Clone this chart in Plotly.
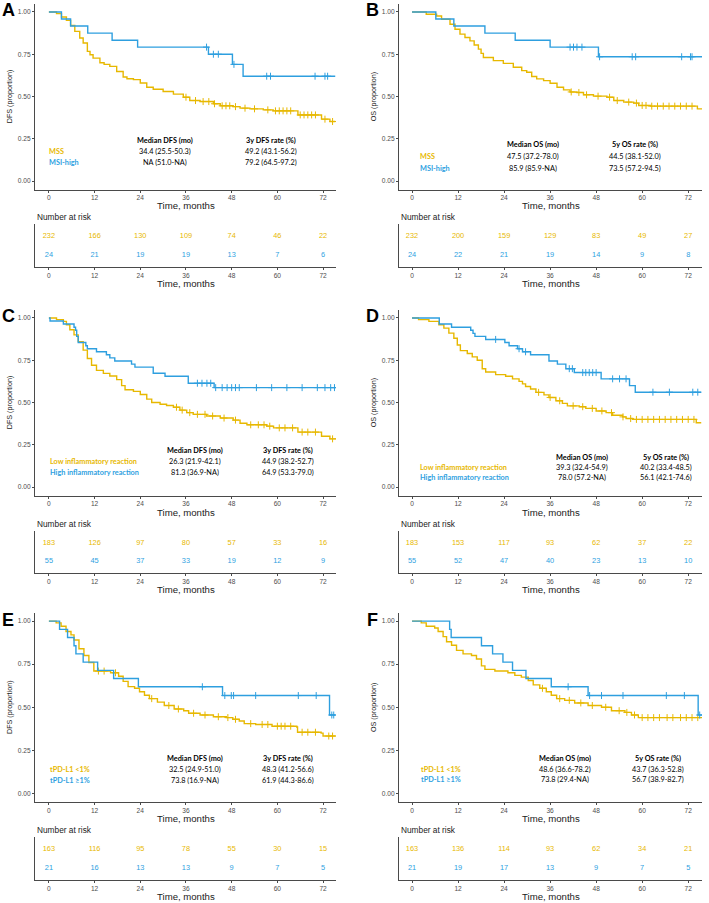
import plotly.graph_objects as go

W, H = 709, 903
YEL = "#E7B800"
BLU = "#2E9FDF"
TICKS = [0, 12, 24, 36, 48, 60, 72]

# ---- A: DFS by MSI status ----
A_yel_t = [0, 2.0, 3.3, 4.6, 5.7, 6.8, 8.1, 9.0, 10.1, 10.8, 11.6, 13.4, 14.5, 16.0, 17.8, 19.5, 20.5, 22.2, 24.0, 25.7,
           27.4, 30.0, 32.7, 35.3, 37.0, 39.7, 43.2, 45.0, 48.4, 50.2, 52.8, 56.3, 58.9, 65.4, 71.6, 73.8, 75.2]
A_yel_s = [1.0, 0.99, 0.97, 0.95, 0.92, 0.885, 0.846, 0.816, 0.767, 0.747, 0.727, 0.70, 0.69, 0.678, 0.648, 0.615, 0.605, 0.6, 0.58, 0.555,
           0.543, 0.53, 0.514, 0.496, 0.476, 0.47, 0.457, 0.445, 0.44, 0.431, 0.427, 0.421, 0.415, 0.391, 0.366, 0.352, 0.352]
A_yel_c = [36.0, 38.5, 40.5, 42.0, 43.5, 45.5, 46.5, 47.5, 49.0, 51.5, 54.0, 57.5, 59.5, 60.5, 61.5, 62.5, 63.5,
           66.0, 67.0, 68.0, 69.0, 70.0, 72.5, 74.5]
A_blu_t = [0, 3.3, 5.7, 10.2, 16.6, 23.3, 41.9, 48.2, 51.0, 75.2]
A_blu_s = [1.0, 0.958, 0.917, 0.875, 0.833, 0.792, 0.75, 0.69, 0.62, 0.62]
A_blu_c = [41.4, 43.2, 44.5, 48.6, 57.2, 58.2, 69.9, 72.5, 73.2]
A_risk_yel = [232, 166, 130, 109, 74, 46, 22]
A_risk_blu = [24, 21, 19, 19, 13, 7, 6]
A_groups = ["MSS", "MSI-high"]
A_heads = ["Median DFS (mo)", "3y DFS rate (%)"]
A_median = ["34.4 (25.5-50.3)", "NA (51.0-NA)"]
A_rate = ["49.2 (43.1-56.2)", "79.2 (64.5-97.2)"]

# ---- B: OS by MSI status ----
B_yel_t = [0, 3.7, 6.4, 7.7, 9.9, 11.2, 12.5, 13.8, 15.1, 16.2, 17.3, 18.0, 18.6, 21.2, 23.8, 26.4, 28.6, 29.9, 31.2, 32.5,
           34.3, 36.0, 37.8, 39.5, 41.2, 43.0, 44.7, 47.3, 50.8, 52.6, 55.2, 57.8, 59.1, 62.2, 73.9, 74.4, 75.6]
B_yel_s = [1.0, 0.986, 0.976, 0.957, 0.927, 0.898, 0.869, 0.849, 0.829, 0.805, 0.78, 0.755, 0.731, 0.712, 0.696, 0.673, 0.653, 0.643, 0.618, 0.604,
           0.594, 0.578, 0.555, 0.539, 0.527, 0.524, 0.51, 0.502, 0.496, 0.476, 0.467, 0.461, 0.447, 0.443, 0.443, 0.427, 0.427]
B_yel_c = [41.5, 43.5, 45.5, 48.5, 51.5, 53.5, 56.5, 58.5, 60.0, 61.0, 62.5, 64.0, 65.5, 67.0, 68.5, 70.0, 71.5, 73.0]
B_blu_t = [0, 6.2, 10.9, 19.0, 26.9, 36.0, 48.6, 75.6]
B_blu_s = [1.0, 0.958, 0.917, 0.875, 0.833, 0.792, 0.735, 0.735]
B_blu_c = [41.2, 42.1, 43.0, 44.3, 48.9, 57.4, 58.3, 70.3, 72.6, 73.0]
B_risk_yel = [232, 200, 159, 129, 83, 49, 27]
B_risk_blu = [24, 22, 21, 19, 14, 9, 8]
B_groups = ["MSS", "MSI-high"]
B_heads = ["Median OS (mo)", "5y OS rate (%)"]
B_median = ["47.5 (37.2-78.0)", "85.9 (85.9-NA)"]
B_rate = ["44.5 (38.1-52.0)", "73.5 (57.2-94.5)"]

# ---- C: DFS by inflammatory reaction ----
C_yel_t = [0, 2.0, 3.8, 4.6, 5.5, 6.6, 7.7, 9.0, 10.1, 11.2, 12.5, 14.3, 16.0, 17.8, 19.1, 20.0, 22.2, 24.0, 25.7, 27.0,
           29.2, 30.9, 32.7, 34.4, 36.2, 37.9, 41.4, 45.0, 48.4, 50.2, 52.0, 57.2, 59.0, 65.4, 71.6, 73.8, 75.4]
C_yel_s = [1.0, 0.99, 0.98, 0.96, 0.93, 0.90, 0.86, 0.81, 0.76, 0.72, 0.69, 0.672, 0.657, 0.635, 0.60, 0.575, 0.566, 0.547, 0.52, 0.50,
           0.49, 0.482, 0.472, 0.455, 0.44, 0.43, 0.42, 0.408, 0.396, 0.377, 0.368, 0.36, 0.35, 0.325, 0.30, 0.285, 0.285]
C_yel_c = [33.5, 35.0, 37.0, 39.0, 41.0, 43.0, 46.0, 49.0, 53.0, 55.0, 56.5, 58.0, 60.5, 62.0, 64.0, 66.5, 68.0, 70.0, 74.5]
C_blu_t = [0, 0.3, 3.8, 6.6, 7.0, 7.3, 7.7, 9.7, 10.1, 12.5, 15.1, 16.0, 17.3, 21.7, 22.6, 27.4, 30.5, 36.6, 43.4, 75.4]
C_blu_s = [1.0, 0.982, 0.964, 0.945, 0.927, 0.891, 0.855, 0.836, 0.818, 0.80, 0.782, 0.764, 0.745, 0.727, 0.709, 0.673, 0.655, 0.614, 0.588, 0.588]
C_blu_c = [39.0, 40.2, 41.5, 42.5, 43.8, 45.5, 46.8, 48.0, 49.0, 50.0, 54.5, 58.5, 62.5, 66.5, 70.5, 72.5, 74.0, 75.0]
C_risk_yel = [183, 126, 97, 80, 57, 33, 16]
C_risk_blu = [55, 45, 37, 33, 19, 12, 9]
C_groups = ["Low inflammatory reaction", "High inflammatory reaction"]
C_heads = ["Median DFS (mo)", "3y DFS rate (%)"]
C_median = ["26.3 (21.9-42.1)", "81.3 (36.9-NA)"]
C_rate = ["44.9 (38.2-52.7)", "64.9 (53.3-79.0)"]

# ---- D: OS by inflammatory reaction ----
D_yel_t = [0, 1.7, 4.4, 7.0, 8.3, 9.6, 10.9, 11.8, 12.6, 14.4, 15.7, 17.0, 18.3, 19.2, 21.8, 24.4, 26.2, 27.9, 28.8, 29.6,
           30.9, 32.3, 34.4, 35.7, 37.5, 39.2, 40.5, 43.6, 45.3, 48.0, 50.6, 52.3, 54.9, 55.8, 57.5, 74.1, 75.4]
D_yel_s = [1.0, 0.99, 0.98, 0.96, 0.94, 0.91, 0.88, 0.84, 0.807, 0.79, 0.77, 0.75, 0.70, 0.68, 0.665, 0.655, 0.64, 0.625, 0.61, 0.595,
           0.58, 0.56, 0.545, 0.53, 0.51, 0.495, 0.48, 0.475, 0.465, 0.45, 0.44, 0.425, 0.415, 0.405, 0.40, 0.38, 0.38]
D_yel_c = [33.0, 36.0, 38.5, 42.0, 44.5, 47.0, 49.5, 52.0, 55.0, 57.0, 58.5, 60.0, 61.5, 63.0, 64.5, 66.0, 67.5, 69.0,
           70.5, 72.0, 73.5]
D_blu_t = [0, 7.1, 10.3, 15.3, 15.9, 16.4, 19.2, 24.2, 25.3, 27.5, 28.8, 30.9, 35.7, 37.9, 40.1, 42.3, 49.3, 56.7, 58.2, 75.4]
D_blu_s = [1.0, 0.964, 0.945, 0.927, 0.909, 0.891, 0.873, 0.855, 0.836, 0.818, 0.80, 0.782, 0.745, 0.727, 0.70, 0.677, 0.64, 0.60, 0.561, 0.561]
D_blu_c = [21.8, 27.9, 29.6, 41.0, 41.8, 44.5, 45.3, 46.2, 47.1, 48.0, 52.3, 54.1, 55.8, 62.8, 67.1, 73.2, 74.5]
D_risk_yel = [183, 153, 117, 93, 62, 37, 22]
D_risk_blu = [55, 52, 47, 40, 23, 13, 10]
D_groups = ["Low inflammatory reaction", "High inflammatory reaction"]
D_heads = ["Median OS (mo)", "5y OS rate (%)"]
D_median = ["39.3 (32.4-54.9)", "78.0 (57.2-NA)"]
D_rate = ["40.2 (33.4-48.5)", "56.1 (42.1-74.6)"]

# ---- E: DFS by tumour PD-L1 ----
E_yel_t = [0, 1.9, 3.2, 4.5, 5.8, 6.6, 7.9, 9.2, 10.5, 11.8, 16.2, 18.3, 19.5, 20.8, 22.5, 23.8, 25.1, 26.4, 28.5, 30.3,
           32.9, 35.4, 36.7, 39.7, 43.2, 46.6, 48.3, 50.0, 51.3, 54.3, 58.6, 65.1, 65.3, 71.5, 72.0, 75.3]
E_yel_s = [1.0, 0.99, 0.97, 0.94, 0.92, 0.89, 0.84, 0.80, 0.76, 0.71, 0.70, 0.68, 0.65, 0.62, 0.61, 0.59, 0.57, 0.55, 0.53, 0.51,
           0.49, 0.48, 0.465, 0.455, 0.445, 0.44, 0.43, 0.42, 0.405, 0.40, 0.39, 0.385, 0.355, 0.35, 0.333, 0.333]
E_yel_c = [13.0, 14.5, 17.5, 27.0, 31.5, 34.0, 38.0, 41.0, 44.5, 47.0, 49.0, 53.0, 56.0, 57.5, 60.0, 61.0, 62.0, 63.5,
           66.5, 68.0, 70.0, 73.5, 74.5]
E_blu_t = [0, 2.8, 4.9, 6.6, 7.1, 9.0, 12.8, 17.0, 23.5, 45.6, 73.7, 75.3]
E_blu_s = [1.0, 0.952, 0.905, 0.857, 0.81, 0.762, 0.714, 0.667, 0.619, 0.568, 0.455, 0.455]
E_blu_c = [40.3, 46.2, 47.9, 48.5, 54.3, 65.5, 70.2, 74.3, 74.8]
E_risk_yel = [163, 116, 95, 78, 55, 30, 15]
E_risk_blu = [21, 16, 13, 13, 9, 7, 5]
E_groups = ["tPD-L1 <1%", "tPD-L1 \u22651%"]
E_heads = ["Median DFS (mo)", "3y DFS rate (%)"]
E_median = ["32.5 (24.9-51.0)", "73.8 (16.9-NA)"]
E_rate = ["48.3 (41.2-56.6)", "61.9 (44.3-86.6)"]

# ---- F: OS by tumour PD-L1 ----
F_yel_t = [0, 2.4, 3.7, 5.9, 6.8, 8.1, 9.0, 10.3, 11.6, 13.3, 15.5, 16.8, 18.1, 19.0, 21.6, 25.0, 26.8, 28.5, 30.3, 31.6,
           33.3, 35.0, 36.3, 37.7, 39.8, 42.4, 45.9, 49.4, 52.0, 55.5, 57.2, 59.0, 75.6]
F_yel_s = [1.0, 0.99, 0.97, 0.96, 0.94, 0.91, 0.88, 0.86, 0.83, 0.81, 0.80, 0.78, 0.74, 0.72, 0.71, 0.70, 0.685, 0.675, 0.655, 0.63,
           0.61, 0.59, 0.57, 0.55, 0.54, 0.525, 0.51, 0.50, 0.48, 0.47, 0.455, 0.44, 0.44]
F_yel_c = [34.0, 38.5, 41.0, 44.0, 47.0, 50.5, 54.0, 56.0, 58.0, 60.0, 61.5, 63.0, 64.5, 66.5, 68.0, 70.0, 71.5, 73.0, 74.5]
F_blu_t = [0, 9.8, 10.2, 18.1, 21.0, 23.7, 26.2, 29.7, 36.3, 45.9, 74.6, 75.6]
F_blu_s = [1.0, 0.952, 0.905, 0.857, 0.81, 0.762, 0.714, 0.667, 0.619, 0.568, 0.455, 0.455]
F_blu_c = [40.7, 46.3, 49.4, 55.0, 66.3, 71.0, 75.0]
F_risk_yel = [163, 136, 114, 93, 62, 34, 21]
F_risk_blu = [21, 19, 17, 13, 9, 7, 5]
F_groups = ["tPD-L1 <1%", "tPD-L1 \u22651%"]
F_heads = ["Median OS (mo)", "5y OS rate (%)"]
F_median = ["48.6 (36.6-78.2)", "73.8 (29.4-NA)"]
F_rate = ["43.7 (36.3-52.8)", "56.7 (38.9-82.7)"]

panels = [
    dict(letter="A", col=0, row=0, ylab="DFS (proportion)",
         yel=(A_yel_t, A_yel_s, A_yel_c), blu=(A_blu_t, A_blu_s, A_blu_c), risk=(A_risk_yel, A_risk_blu),
         groups=A_groups, heads=A_heads, median=A_median, rate=A_rate,
         txt=(-0.5, 30.5, 58.3, [0.237, 0.176, 0.107])),
    dict(letter="B", col=1, row=0, ylab="OS (proportion)",
         yel=(B_yel_t, B_yel_s, B_yel_c), blu=(B_blu_t, B_blu_s, B_blu_c), risk=(B_risk_yel, B_risk_blu),
         groups=B_groups, heads=B_heads, median=B_median, rate=B_rate,
         txt=(1.6, 31.6, 58.2, [0.218, 0.147, 0.076])),
    dict(letter="C", col=0, row=1, ylab="DFS (proportion)",
         yel=(C_yel_t, C_yel_s, C_yel_c), blu=(C_blu_t, C_blu_s, C_blu_c), risk=(C_risk_yel, C_risk_blu),
         groups=C_groups, heads=C_heads, median=C_median, rate=C_rate,
         txt=(-0.3, 38.4, 62.8, [0.214, 0.149, 0.089])),
    dict(letter="D", col=1, row=1, ylab="OS (proportion)",
         yel=(D_yel_t, D_yel_s, D_yel_c), blu=(D_blu_t, D_blu_s, D_blu_c), risk=(D_risk_yel, D_risk_blu),
         groups=D_groups, heads=D_heads, median=D_median, rate=D_rate,
         txt=(1.6, 44.4, 66.3, [0.176, 0.118, 0.059])),
    dict(letter="E", col=0, row=2, ylab="DFS (proportion)",
         yel=(E_yel_t, E_yel_s, E_yel_c), blu=(E_blu_t, E_blu_s, E_blu_c), risk=(E_risk_yel, E_risk_blu),
         groups=E_groups, heads=E_heads, median=E_median, rate=E_rate,
         txt=(-0.3, 38.4, 62.8, [0.204, 0.14, 0.076])),
    dict(letter="F", col=1, row=2, ylab="OS (proportion)",
         yel=(F_yel_t, F_yel_s, F_yel_c), blu=(F_blu_t, F_blu_s, F_blu_c), risk=(F_risk_yel, F_risk_blu),
         groups=F_groups, heads=F_heads, median=F_median, rate=F_rate,
         txt=(1.8, 39.9, 64.2, [0.204, 0.14, 0.081])),
]

# layout in pixels
COLS = [(35, 336), (399, 702)]
XRANGES = [[-3.65, 75.4], [-3.4, 75.6]]
KM_ROWS = [(3.5, 189.5), (309.5, 495.5), (612.5, 802.0)]
TAB_ROWS = [(224, 267), (531, 573), (837, 880)]
LETTER_Y = [10, 316, 620]

AXIS_COL = "#4a4a4a"
SANS = "Liberation Sans, Arial"
TICK_FONT = dict(family=SANS, size=6.6, color="#4d4d4d")
TITLE_FONT = dict(family=SANS, size=9.6, color="#1a1a1a")
STAT_FONT = "Lato, Open Sans, sans-serif"
STAT_SIZE = 7.3


def xdom(a, b):
    return [a / W, b / W]


def ydom(top, bottom):
    return [1 - bottom / H, 1 - top / H]


def step_at(ts, ss, c):
    v = ss[0]
    for t, s in zip(ts, ss):
        if t <= c:
            v = s
    return v


fig = go.Figure()
layout = dict(width=W, height=H, margin=dict(l=0, r=0, t=0, b=0, autoexpand=False),
              plot_bgcolor="white", paper_bgcolor="white", showlegend=False)
annotations = []

for i, p in enumerate(panels):
    kx, ky = f"x{2 * i + 1}", f"y{2 * i + 1}"
    tx, ty = f"x{2 * i + 2}", f"y{2 * i + 2}"
    kxa, kya = f"xaxis{2 * i + 1}", f"yaxis{2 * i + 1}"
    txa, tya = f"xaxis{2 * i + 2}", f"yaxis{2 * i + 2}"
    c0, c1 = COLS[p["col"]]
    xr = XRANGES[p["col"]]
    ktop, kbot = KM_ROWS[p["row"]]
    ttop, tbot = TAB_ROWS[p["row"]]

    for (ts, ss, cs), col in [(p["yel"], YEL), (p["blu"], BLU)]:
        fig.add_trace(go.Scatter(x=ts, y=ss, mode="lines", line=dict(color=col, width=1.4, shape="hv"),
                                 xaxis=kx, yaxis=ky, hoverinfo="skip"))
        fig.add_trace(go.Scatter(x=cs, y=[step_at(ts, ss, c) for c in cs], mode="markers",
                                 marker=dict(symbol="cross-thin", size=5, line=dict(color=col, width=1)),
                                 xaxis=kx, yaxis=ky, hoverinfo="skip"))

    ry, rb = p["risk"]
    fig.add_trace(go.Scatter(x=TICKS, y=[0.72] * 7, mode="text", text=[str(v) for v in ry],
                             textfont=dict(family=SANS, size=7.4, color=YEL),
                             xaxis=tx, yaxis=ty, hoverinfo="skip"))
    fig.add_trace(go.Scatter(x=TICKS, y=[0.28] * 7, mode="text", text=[str(v) for v in rb],
                             textfont=dict(family=SANS, size=7.4, color=BLU),
                             xaxis=tx, yaxis=ty, hoverinfo="skip"))

    common_x = dict(range=xr, tickvals=TICKS, showline=True, linecolor=AXIS_COL, linewidth=1,
                    ticks="outside", ticklen=2, tickcolor=AXIS_COL, tickfont=TICK_FONT,
                    showgrid=False, zeroline=False, fixedrange=True, automargin=False)
    layout[kxa] = dict(domain=xdom(c0, c1), anchor=ky, **common_x)
    layout[kya] = dict(domain=ydom(ktop, kbot), anchor=kx, range=[-0.05, 1.05], automargin=False,
                       tickvals=[0, 0.25, 0.5, 0.75, 1.0], ticktext=["0.00", "0.25", "0.50", "0.75", "1.00"],
                       showline=True, linecolor=AXIS_COL, linewidth=1, ticks="outside", ticklen=2,
                       tickcolor=AXIS_COL, tickfont=TICK_FONT, showgrid=False, zeroline=False,
                       title=dict(text=p["ylab"], font=dict(family=SANS, size=7.2, color="#1a1a1a"), standoff=4))
    layout[txa] = dict(domain=xdom(c0, c1), anchor=ty, **common_x)
    layout[tya] = dict(domain=ydom(ttop, tbot), anchor=tx, range=[0, 1], showline=True, automargin=False,
                       linecolor=AXIS_COL, linewidth=1, showticklabels=False, ticks="",
                       showgrid=False, zeroline=False)

    # x axis titles, placed just under the tick labels
    for bottom in (kbot, tbot):
        annotations.append(dict(x=(c0 + c1) / 2 / W, y=1 - (bottom + 16.5) / H, xref="paper", yref="paper",
                                text="Time, months", showarrow=False, xanchor="center", yanchor="middle",
                                font=TITLE_FONT))
    # panel letter
    annotations.append(dict(x=(c0 - 27) / W, y=1 - LETTER_Y[p["row"]] / H, xref="paper", yref="paper",
                            text=f"<b>{p['letter']}</b>", showarrow=False, xanchor="center", yanchor="middle",
                            font=dict(family=SANS, size=18, color="black")))
    # number at risk label
    annotations.append(dict(x=c0 / W, y=1 - (ttop - 7) / H, xref="paper", yref="paper",
                            text="Number at risk", showarrow=False, xanchor="left", yanchor="middle",
                            font=dict(family=SANS, size=8.3, color="#1a1a1a")))
    # stats block
    lx, mx, rx, ys = p["txt"]
    annotations.append(dict(x=mx, y=ys[0], xref=kx, yref=ky, text=f"<b>{p['heads'][0]}</b>", showarrow=False,
                            font=dict(family=STAT_FONT, size=STAT_SIZE, color="black")))
    annotations.append(dict(x=rx, y=ys[0], xref=kx, yref=ky, text=f"<b>{p['heads'][1]}</b>", showarrow=False,
                            font=dict(family=STAT_FONT, size=STAT_SIZE, color="black")))
    for k, col in enumerate([YEL, BLU]):
        annotations.append(dict(x=lx, y=ys[k + 1], xref=kx, yref=ky, text=f"<b>{p['groups'][k]}</b>",
                                showarrow=False, xanchor="left",
                                font=dict(family=STAT_FONT, size=STAT_SIZE, color=col)))
        annotations.append(dict(x=mx, y=ys[k + 1], xref=kx, yref=ky, text=p["median"][k], showarrow=False,
                                font=dict(family=STAT_FONT, size=STAT_SIZE, color="black")))
        annotations.append(dict(x=rx, y=ys[k + 1], xref=kx, yref=ky, text=p["rate"][k], showarrow=False,
                                font=dict(family=STAT_FONT, size=STAT_SIZE, color="black")))

layout["annotations"] = annotations
fig.update_layout(**layout)
fig.write_html("out.html", config={"displayModeBar": False},
               post_script="document.body.style.margin='0';document.body.style.overflow='hidden';")
